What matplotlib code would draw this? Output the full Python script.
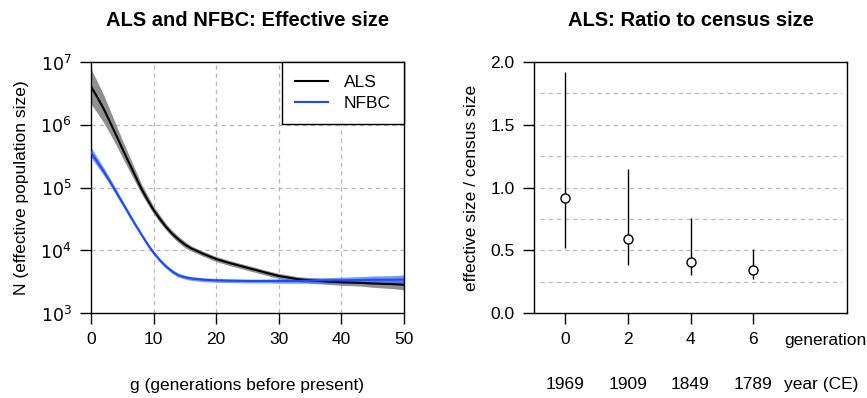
import numpy as np
import matplotlib.pyplot as plt
import matplotlib.transforms as mtransforms

plt.rcParams['font.family'] = ['Liberation Sans', 'DejaVu Sans']

# Left panel: effective size, log10 values
gens = [0, 1, 2, 3, 4, 5, 6, 7, 8, 9, 10, 11, 12, 13, 14, 15, 16, 18, 20, 22,
        25, 28, 30, 33, 35, 38, 40, 43, 45, 48, 50]
als_log = [6.61, 6.44, 6.26, 6.05, 5.84, 5.62, 5.41, 5.20, 4.99, 4.81, 4.64,
           4.50, 4.37, 4.26, 4.17, 4.09, 4.03, 3.94, 3.86, 3.80, 3.72, 3.64,
           3.59, 3.54, 3.52, 3.50, 3.49, 3.48, 3.47, 3.46, 3.45]
als_half = [0.28, 0.25, 0.22, 0.19, 0.16, 0.14, 0.12, 0.10, 0.08, 0.07, 0.06,
            0.06, 0.05, 0.05, 0.05, 0.05, 0.04, 0.04, 0.04, 0.04, 0.04, 0.04,
            0.04, 0.04, 0.045, 0.045, 0.05, 0.05, 0.06, 0.07, 0.08]
nfbc_log = [5.56, 5.41, 5.26, 5.10, 4.93, 4.76, 4.59, 4.42, 4.26, 4.10, 3.96,
            3.84, 3.74, 3.66, 3.60, 3.57, 3.55, 3.53, 3.52, 3.515, 3.51, 3.51,
            3.51, 3.51, 3.515, 3.52, 3.52, 3.525, 3.53, 3.53, 3.535]
nfbc_half = [0.08, 0.07, 0.06, 0.05, 0.05, 0.04, 0.04, 0.035, 0.03, 0.03, 0.03,
             0.03, 0.03, 0.03, 0.03, 0.03, 0.03, 0.03, 0.03, 0.03, 0.03, 0.03,
             0.035, 0.035, 0.04, 0.045, 0.05, 0.055, 0.06, 0.065, 0.07]

# Right panel: ratio to census size
ratio_gen = [0, 2, 4, 6]
ratio_years = ['1969', '1909', '1849', '1789']
ratio_mid = [0.92, 0.59, 0.41, 0.34]
ratio_lo = [0.52, 0.38, 0.30, 0.27]
ratio_hi = [1.92, 1.15, 0.76, 0.51]

W, H = 867, 398
fig = plt.figure(figsize=(W / 100, H / 100), dpi=100)
ax1 = fig.add_axes([91 / W, 1 - 313 / H, 313 / W, 251 / H])
ax2 = fig.add_axes([534 / W, 1 - 313 / H, 313 / W, 251 / H])

grid_kw = dict(color='#b8b8b8', lw=0.9, ls=(0, (3.5, 3)), zorder=0)
tick_fs = 12.5
title_fs = 14.5

# ---- left panel
g = np.array(gens)
als = np.array(als_log)
nf = np.array(nfbc_log)
ah = np.array(als_half)
nh = np.array(nfbc_half)

for x in [10, 20, 30, 40]:
    ax1.axvline(x, **grid_kw)
for y in [1e4, 1e5, 1e6]:
    ax1.axhline(y, **grid_kw)

ax1.fill_between(g, 10 ** (als - ah), 10 ** (als + ah), color='#8f8f8f',
                 lw=0, zorder=2)
ax1.fill_between(g, 10 ** (nf - nh), 10 ** (nf + nh), color='#3f6dff',
                 alpha=0.7, lw=0, zorder=2)
ax1.plot(g, 10 ** als, color='black', lw=1.5, label='ALS', zorder=3)
ax1.plot(g, 10 ** nf, color='#1a4cff', lw=1.5, label='NFBC', zorder=3)

ax1.set_yscale('log')
ax1.set_xlim(0, 50)
ax1.set_ylim(1e3, 1e7)
ax1.set_xticks([0, 10, 20, 30, 40, 50])
ax1.set_yticks([1e3, 1e4, 1e5, 1e6, 1e7])
ax1.set_yticklabels([r'$10^{%d}$' % k for k in range(3, 8)])
ax1.minorticks_off()
ax1.tick_params(direction='out', length=8, width=1, pad=6, labelsize=tick_fs)
ax1.set_xlabel('g (generations before present)', fontsize=tick_fs, labelpad=22)
ax1.set_ylabel('N (effective population size)', fontsize=tick_fs, labelpad=8)
ax1.set_title('ALS and NFBC: Effective size', fontsize=title_fs,
              fontweight='bold', pad=26)

leg = ax1.legend(loc='upper right', borderaxespad=0, fancybox=False,
                 edgecolor='black', framealpha=1, fontsize=tick_fs,
                 handlelength=1.9, borderpad=0.75, labelspacing=0.35,
                 handletextpad=0.9)
leg.get_frame().set_linewidth(1)

# ---- right panel
for y in [0.25, 0.5, 0.75, 1.0, 1.25, 1.5, 1.75]:
    ax2.axhline(y, xmin=0.02, xmax=0.985, **grid_kw)

ax2.vlines(ratio_gen, ratio_lo, ratio_hi, color='black', lw=1, zorder=3)
ax2.plot(ratio_gen, ratio_mid, 'o', ms=6.5, mfc='white', mec='black',
         mew=1, zorder=4)

ax2.set_xlim(-1, 9)
ax2.set_ylim(0, 2)
ax2.set_xticks(ratio_gen)
ax2.set_yticks([0, 0.5, 1.0, 1.5, 2.0])
ax2.set_yticklabels(['0.0', '0.5', '1.0', '1.5', '2.0'])
ax2.tick_params(direction='out', length=8, width=1, pad=6, labelsize=tick_fs)
ax2.set_ylabel('effective size / census size', fontsize=tick_fs, labelpad=8)
ax2.set_title('ALS: Ratio to census size', fontsize=title_fs,
              fontweight='bold', pad=26)

trans = mtransforms.blended_transform_factory(ax2.transData, ax2.transAxes)
ax2.text(7, -0.108, 'generation', transform=trans, ha='left', va='center',
         fontsize=tick_fs)
for x, yr in zip(ratio_gen, ratio_years):
    ax2.text(x, -0.283, yr, transform=trans, ha='center', va='center',
             fontsize=tick_fs)
ax2.text(7, -0.283, 'year (CE)', transform=trans, ha='left', va='center',
         fontsize=tick_fs)

for ax in (ax1, ax2):
    for s in ax.spines.values():
        s.set_linewidth(1)

fig.savefig('out.png', dpi=100)
